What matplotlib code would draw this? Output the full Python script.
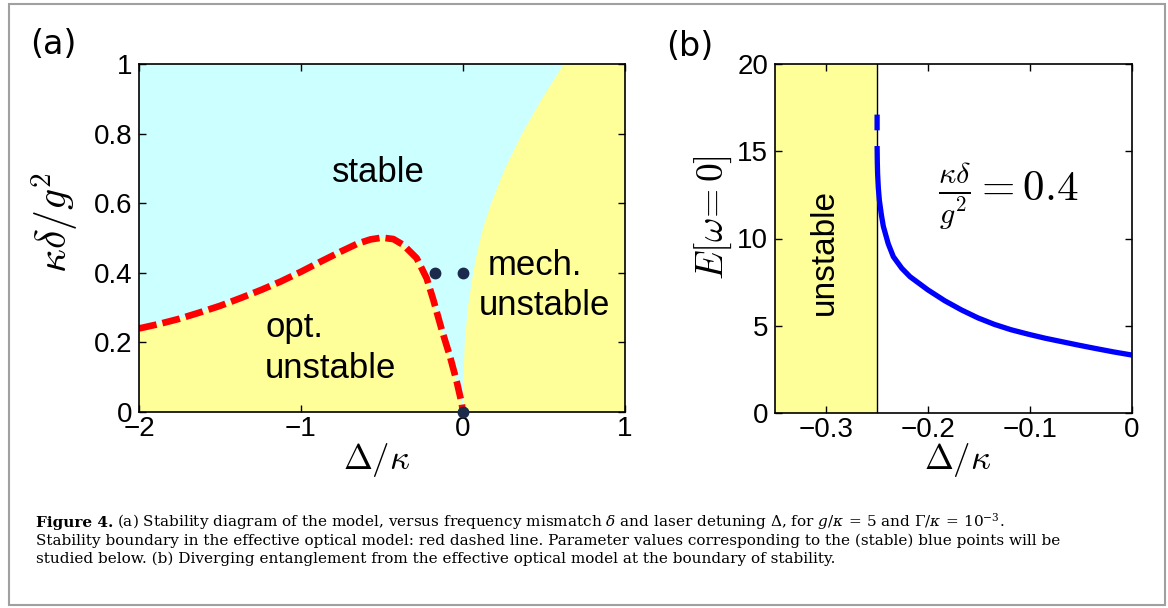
import matplotlib
matplotlib.use('Agg')
import matplotlib.pyplot as plt
import numpy as np
from matplotlib.patches import Rectangle

plt.rcParams['mathtext.fontset'] = 'cm'
plt.rcParams['font.family'] = ['Liberation Sans', 'DejaVu Sans']

# (a) stability diagram
bound_x = [-2.0, -1.875, -1.75, -1.625, -1.5, -1.375, -1.25, -1.125, -1.0, -0.875, -0.75, -0.65,
           -0.57, -0.5, -0.43, -0.368, -0.286, -0.224, -0.183, -0.131, -0.08, -0.039, -0.008, 0.0]
bound_y = [0.24, 0.253, 0.268, 0.286, 0.305, 0.327, 0.35, 0.375, 0.403, 0.433, 0.462, 0.484,
           0.496, 0.501, 0.497, 0.48, 0.442, 0.384, 0.322, 0.236, 0.159, 0.088, 0.025, 0.0]
mech_y = [0.0, 0.05, 0.1, 0.2, 0.3, 0.4, 0.465, 0.53, 0.6, 0.7, 0.8, 0.9, 1.0]
mech_x = [0.0, 0.001, 0.003, 0.011, 0.03, 0.063, 0.09, 0.125, 0.174, 0.26, 0.365, 0.487, 0.623]
dots_x = [-0.17, 0.0, 0.0]
dots_y = [0.4, 0.4, 0.0]
a_xticks = [-2, -1, 0, 1]
a_xlabels = ['\u22122', '\u22121', '0', '1']
a_yticks = [0, 0.2, 0.4, 0.6, 0.8, 1]
a_ylabels = ['0', '0.2', '0.4', '0.6', '0.8', '1']

# (b) entanglement at the boundary, kappa*delta/g^2 = 0.4
edge = -0.25
e_x = [-0.2499, -0.2499, np.nan, -0.2499, -0.2497, -0.2494, -0.2487, -0.2477, -0.2457, -0.2438, -0.239,
       -0.234, -0.2258, -0.2176, -0.2, -0.1835, -0.167, -0.151, -0.135, -0.1185, -0.102, -0.0855,
       -0.069, -0.0525, -0.036, -0.018, 0.0]
e_y = [17.1, 16.2, np.nan, 15.3, 14.4, 13.7, 12.9, 12.2, 11.35, 10.7, 9.7,
       8.96, 8.3, 7.81, 7.05, 6.43, 5.9, 5.45, 5.08, 4.77, 4.52, 4.29,
       4.09, 3.89, 3.7, 3.5, 3.32]
b_xticks = [-0.3, -0.2, -0.1, 0]
b_xlabels = ['\u22120.3', '\u22120.2', '\u22120.1', '0']
b_yticks = [0, 5, 10, 15, 20]
b_ylabels = ['0', '5', '10', '15', '20']

cyan = '#ccffff'
yellow = '#ffff99'
navy = '#1c2a4c'

fig = plt.figure(figsize=(11.68, 6.08), dpi=100)

# ---- panel a
ax = fig.add_axes([139/1168, 1-412/608, 486/1168, 348/608])
ax.set_facecolor(yellow)
poly_x = [a_xticks[0]] + mech_x[::-1] + bound_x[::-1]
poly_y = [a_yticks[-1]] + mech_y[::-1] + bound_y[::-1]
ax.fill(poly_x, poly_y, color=cyan, lw=0)
ax.plot(bound_x, bound_y, color='red', lw=4.8, dashes=(2.7, 0.9), dash_capstyle='butt')
ax.plot(dots_x, dots_y, 'o', color=navy, ms=7.5, clip_on=False, zorder=5)
ax.set_xlim(-2, 1)
ax.set_ylim(0, 1)
ax.set_xticks(a_xticks, a_xlabels)
ax.set_yticks(a_yticks, a_ylabels)
ax.text(-0.525, 0.661, 'stable', fontsize=25, ha='center', va='baseline')
ax.text(0.444, 0.394, 'mech.', fontsize=25, ha='center', va='baseline')
ax.text(0.5, 0.279, 'unstable', fontsize=25, ha='center', va='baseline')
ax.text(-1.222, 0.215, 'opt.', fontsize=25, ha='left', va='baseline')
ax.text(-1.222, 0.098, 'unstable', fontsize=25, ha='left', va='baseline')
ax.set_xlabel(r'$\Delta/\kappa$', fontsize=25, va='center')
ax.xaxis.set_label_coords(0.49, -0.138)
ax.set_ylabel(r'$\kappa\delta/g^2$', fontsize=30, va='center')
ax.yaxis.set_label_coords(-0.173, 0.546)

# ---- panel b
bx = fig.add_axes([775/1168, 1-413/608, 357/1168, 349/608])
bx.axvspan(-0.35, edge, color=yellow, lw=0)
bx.axvline(edge, color='black', lw=1)
bx.plot(e_x, e_y, color='blue', lw=3.8, solid_capstyle='butt')
bx.set_xlim(-0.35, 0)
bx.set_ylim(0, 20)
bx.set_xticks(b_xticks, b_xlabels)
bx.set_yticks(b_yticks, b_ylabels)
bx.text(-0.302, 9.2, 'unstable', fontsize=24, rotation=90, ha='center', va='center')
bx.text(-0.1216, 12.4, r'$\frac{\kappa\delta}{g^2} = 0.4$', fontsize=31, ha='center', va='center')
bx.set_xlabel(r'$\Delta/\kappa$', fontsize=25, va='center')
bx.xaxis.set_label_coords(0.513, -0.135)
bx.set_ylabel(r'$E[\omega\!=0]$', fontsize=27, va='center')
bx.yaxis.set_label_coords(-0.174, 0.559)

for a in (ax, bx):
    a.tick_params(direction='in', top=True, right=True, length=5, width=1,
                  labelsize=20, pad=3)
    a.tick_params(axis='y', pad=5)
    for s in a.spines.values():
        s.set_linewidth(1.2)

fig.text(53/1168, 1-45/608, '(a)', fontsize=24, family='DejaVu Sans', ha='center', va='center')
fig.text(690/1168, 1-47/608, '(b)', fontsize=24, family='DejaVu Sans', ha='center', va='center')

# caption
cap = dict(fontsize=11, family='DejaVu Serif', math_fontfamily='dejavuserif', va='baseline')
t1 = fig.text(36/1168, 1-527/608, 'Figure 4.', fontweight='bold', **cap)
fig.canvas.draw()
r = fig.canvas.get_renderer()
bb = t1.get_window_extent(r)
fig.text(bb.x1/1168 + 4/1168, 1-527/608,
         r'(a) Stability diagram of the model, versus frequency mismatch $\delta$ and laser detuning $\Delta$, '
         r'for $g/\kappa\,=\,5$ and $\Gamma/\kappa\,=\,10^{-3}$.', **cap)
fig.text(36/1168, 1-545/608,
         'Stability boundary in the effective optical model: red dashed line. Parameter values corresponding '
         'to the (stable) blue points will be', **cap)
fig.text(36/1168, 1-563/608,
         'studied below. (b) Diverging entanglement from the effective optical model at the boundary of stability.',
         **cap)

fig.add_artist(Rectangle((9/1168, 1-605/608), 1156/1168, 601/608, transform=fig.transFigure,
                         fill=False, ec='#a0a0a0', lw=1.5))

fig.savefig('out.png', dpi=100)
